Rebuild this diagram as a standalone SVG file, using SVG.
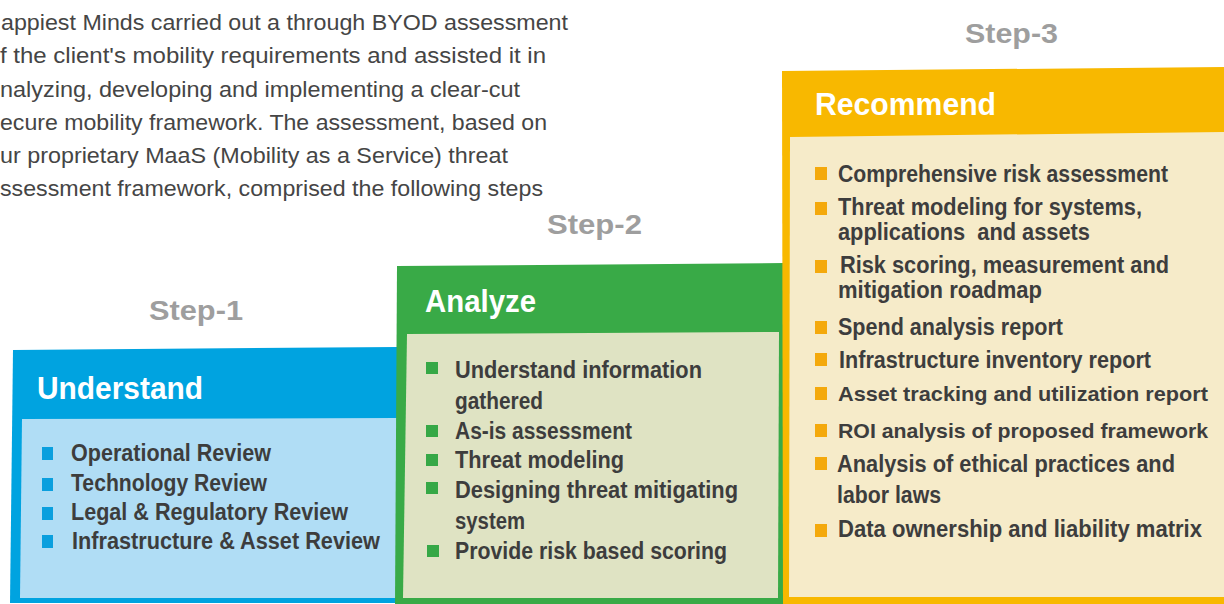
<svg xmlns="http://www.w3.org/2000/svg" width="1224" height="604" viewBox="0 0 1224 604">
<style>
.intro{font-family:"Liberation Sans",Arial,sans-serif;font-size:21.5px;fill:#454545}
.step{font-family:"Liberation Sans",Arial,sans-serif;font-size:28px;font-weight:bold;fill:#9e9e9e}
.title{font-family:"Liberation Sans",Arial,sans-serif;font-size:31px;font-weight:bold;fill:#ffffff}
.item{font-family:"Liberation Sans",Arial,sans-serif;font-size:23px;font-weight:bold;fill:#3d3d3d}
.item.wide{font-size:21px}
.bb{fill:#0a9fde}
.gb{fill:#36a846}
.yb{fill:#f4a90c}
</style>
<rect width="1224" height="604" fill="#ffffff"/>
<g id="intro">
<text class="intro" x="1" y="30" textLength="567" lengthAdjust="spacingAndGlyphs">appiest Minds carried out a through BYOD assessment</text>
<text class="intro" x="0" y="63" textLength="546" lengthAdjust="spacingAndGlyphs">f the client's mobility requirements and assisted it in</text>
<text class="intro" x="0" y="97" textLength="520" lengthAdjust="spacingAndGlyphs">nalyzing, developing and implementing a clear-cut</text>
<text class="intro" x="0" y="130" textLength="547" lengthAdjust="spacingAndGlyphs">ecure mobility framework. The assessment, based on</text>
<text class="intro" x="0" y="163" textLength="508" lengthAdjust="spacingAndGlyphs">ur proprietary MaaS (Mobility as a Service) threat</text>
<text class="intro" x="0" y="196" textLength="543" lengthAdjust="spacingAndGlyphs">ssessment framework, comprised the following steps</text>
</g>
<g id="step1">
<text class="step" x="149" y="320" textLength="94" lengthAdjust="spacingAndGlyphs">Step-1</text>
<polygon points="13,350 398,347 398,603 10,603" fill="#00a3e0"/>
<polygon points="22,419 398,418 398,598 20,598" fill="#b0ddf5"/>
<text class="title" x="37" y="399" textLength="166" lengthAdjust="spacingAndGlyphs">Understand</text>
<rect class="bb" x="42" y="447" width="11" height="13"/>
<rect class="bb" x="42" y="478" width="11" height="13"/>
<rect class="bb" x="42" y="507" width="11" height="13"/>
<rect class="bb" x="42" y="535" width="11" height="13"/>
<text class="item" x="71" y="461" textLength="200" lengthAdjust="spacingAndGlyphs">Operational Review</text>
<text class="item" x="71" y="491" textLength="196" lengthAdjust="spacingAndGlyphs">Technology Review</text>
<text class="item" x="71" y="520" textLength="277" lengthAdjust="spacingAndGlyphs">Legal &amp; Regulatory Review</text>
<text class="item" x="72" y="549" textLength="308" lengthAdjust="spacingAndGlyphs">Infrastructure &amp; Asset Review</text>
</g>
<g id="step2">
<text class="step" x="547" y="234" textLength="95" lengthAdjust="spacingAndGlyphs">Step-2</text>
<polygon points="397,266 785,263 785,604 395,604" fill="#39aa47"/>
<polygon points="407,334 779,332 778,598 403,598" fill="#dfe3c3"/>
<text class="title" x="425" y="312" textLength="111" lengthAdjust="spacingAndGlyphs">Analyze</text>
<rect class="gb" x="426" y="362" width="12" height="12"/>
<rect class="gb" x="426" y="425" width="12" height="12"/>
<rect class="gb" x="426" y="454" width="12" height="12"/>
<rect class="gb" x="426" y="482" width="12" height="12"/>
<rect class="gb" x="427" y="545" width="12" height="12"/>
<text class="item" x="455" y="378" textLength="247" lengthAdjust="spacingAndGlyphs">Understand information</text>
<text class="item" x="455" y="409" textLength="88" lengthAdjust="spacingAndGlyphs">gathered</text>
<text class="item" x="455" y="439" textLength="177" lengthAdjust="spacingAndGlyphs">As-is assessment</text>
<text class="item" x="455" y="468" textLength="169" lengthAdjust="spacingAndGlyphs">Threat modeling</text>
<text class="item" x="455" y="498" textLength="283" lengthAdjust="spacingAndGlyphs">Designing threat mitigating</text>
<text class="item" x="455" y="529" textLength="70" lengthAdjust="spacingAndGlyphs">system</text>
<text class="item" x="455" y="559" textLength="272" lengthAdjust="spacingAndGlyphs">Provide risk based scoring</text>
</g>
<g id="step3">
<text class="step" x="965" y="43" textLength="93" lengthAdjust="spacingAndGlyphs">Step-3</text>
<polygon points="782,71 1224,67 1224,604 783,604" fill="#f8b800"/>
<polygon points="790,137 1224,132 1224,597 789,597" fill="#f6ebc9"/>
<text class="title" x="815" y="115" textLength="181" lengthAdjust="spacingAndGlyphs">Recommend</text>
<rect class="yb" x="815" y="167" width="12" height="13"/>
<rect class="yb" x="815" y="202" width="12" height="13"/>
<rect class="yb" x="815" y="260" width="12" height="13"/>
<rect class="yb" x="815" y="321" width="12" height="13"/>
<rect class="yb" x="815" y="353" width="12" height="13"/>
<rect class="yb" x="815" y="387" width="12" height="13"/>
<rect class="yb" x="815" y="424" width="12" height="13"/>
<rect class="yb" x="815" y="457" width="12" height="13"/>
<rect class="yb" x="815" y="524" width="12" height="13"/>
<text class="item" x="838" y="182" textLength="330" lengthAdjust="spacingAndGlyphs">Comprehensive risk assessment</text>
<text class="item" x="838" y="215" textLength="304" lengthAdjust="spacingAndGlyphs">Threat modeling for systems,</text>
<text class="item" x="838" y="240" textLength="252" lengthAdjust="spacingAndGlyphs" style="white-space:pre">applications  and assets</text>
<text class="item" x="840" y="273" textLength="329" lengthAdjust="spacingAndGlyphs">Risk scoring, measurement and</text>
<text class="item" x="838" y="298" textLength="204" lengthAdjust="spacingAndGlyphs">mitigation roadmap</text>
<text class="item" x="838" y="335" textLength="225" lengthAdjust="spacingAndGlyphs">Spend analysis report</text>
<text class="item" x="839" y="368" textLength="312" lengthAdjust="spacingAndGlyphs">Infrastructure inventory report</text>
<text class="item wide" x="838" y="401" textLength="370" lengthAdjust="spacingAndGlyphs">Asset tracking and utilization report</text>
<text class="item wide" x="838" y="438" textLength="370" lengthAdjust="spacingAndGlyphs">ROI analysis of proposed framework</text>
<text class="item" x="837" y="472" textLength="338" lengthAdjust="spacingAndGlyphs">Analysis of ethical practices and</text>
<text class="item" x="837" y="503" textLength="104" lengthAdjust="spacingAndGlyphs">labor laws</text>
<text class="item" x="838" y="537" textLength="364" lengthAdjust="spacingAndGlyphs">Data ownership and liability matrix</text>
</g>
<g id="connectors"/>
</svg>
